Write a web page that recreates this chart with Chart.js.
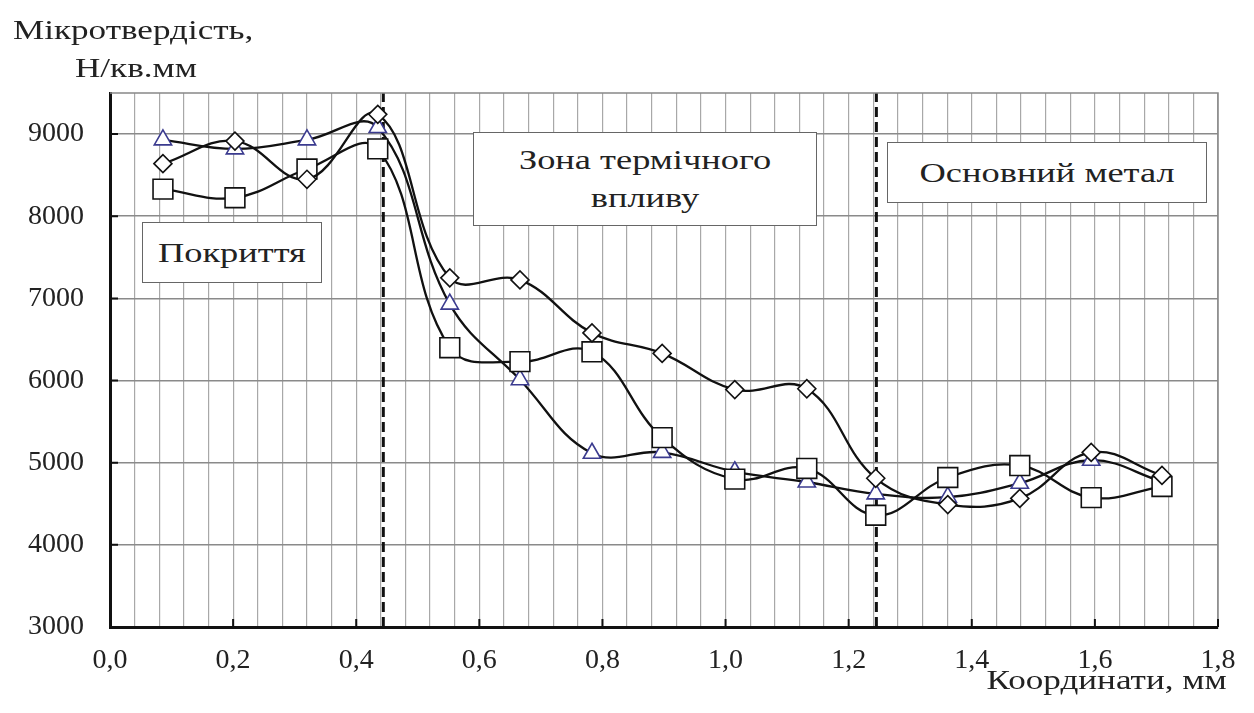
<!DOCTYPE html>
<html>
<head>
<meta charset="utf-8">
<script src="https://cdn.jsdelivr.net/npm/chart.js@4.4.1/dist/chart.umd.min.js"></script>
<style>
  body { margin: 0; background: #fff; }
  #wrap { position: relative; width: 1254px; height: 713px; }
  .lbl { position: absolute; font-family: "Liberation Serif", "Times New Roman", serif; font-size: 27px; line-height: 27px; color: #222; white-space: nowrap; transform: scaleX(1.3); transform-origin: left top; }
  .box { position: absolute; background: #fff; border: 1.5px solid #666; box-sizing: border-box; display: flex; align-items: center; justify-content: center; text-align: center; }
  .box span { font-family: "Liberation Serif", "Times New Roman", serif; font-size: 28px; line-height: 38px; color: #222; transform: scaleX(1.3); display: inline-block; }
</style>
</head>
<body>
<div id="wrap">
  <canvas id="chart"></canvas>
  <div class="lbl" style="left:13px;top:17px">Мікротвердість,</div>
  <div class="lbl" style="left:75px;top:55px">Н/кв.мм</div>
  <div class="lbl" style="right:27px;top:667px;transform-origin:right top">Координати, мм</div>
  <div class="box" style="left:142px;top:222px;width:180px;height:61px"><span>Покриття</span></div>
  <div class="box" style="left:473px;top:132px;width:344px;height:94px"><span>Зона термічного<br>впливу</span></div>
  <div class="box" style="left:887px;top:142px;width:320px;height:61px"><span>Основний метал</span></div>
</div>
<script>
// координати точок вимірювання, мм
const coords = [0.086, 0.203, 0.320, 0.435, 0.552, 0.666, 0.783, 0.897, 1.015, 1.132, 1.244, 1.361, 1.478, 1.594, 1.709];
// мікротвердість, Н/кв.мм
const seriesDiamond = [8640, 8915, 8450, 9240, 7250, 7225, 6580, 6330, 5890, 5900, 4810, 4490, 4565, 5125, 4845];
const seriesSquare = [8330, 8225, 8575, 8820, 6400, 6230, 6350, 5305, 4800, 4930, 4360, 4820, 4965, 4575, 4710];
const seriesTriangle = [8930, 8820, 8930, 9080, 6930, 6010, 5115, 5125, 4890, 4765, 4620, 4580, 4750, 5030, 4770];
// межі зон (покриття / ЗТВ / основний метал)
const zoneBounds = [0.444, 1.245];
const yTicks = [3000, 4000, 5000, 6000, 7000, 8000, 9000];
const xLabels = [0, 0.2, 0.4, 0.6, 0.8, 1.0, 1.2, 1.4, 1.6, 1.8];

const Y_MIN = 3000, Y_MAX = 9500;
const FONT = '"Liberation Serif", "Times New Roman", serif';

const toPts = vals => vals.map((v, i) => ({ x: coords[i], y: v }));

function lineSet(vals, style, radius, pointBorder) {
    return {
        data: toPts(vals),
        borderColor: '#111',
        borderWidth: 2.3,
        tension: 0.4,
        fill: false,
        pointStyle: style,
        pointRadius: radius,
        pointHoverRadius: radius,
        pointBackgroundColor: '#fff',
        pointBorderColor: pointBorder,
        pointBorderWidth: 1.6
    };
}

const zoneSets = zoneBounds.map(x => ({
    data: [{ x: x, y: Y_MIN }, { x: x, y: Y_MAX }],
    borderColor: '#111',
    borderWidth: 3,
    borderDash: [10, 5],
    pointRadius: 0,
    tension: 0,
    fill: false
}));

// рамка зверху/справа і короткі внутрішні засічки, як у Excel
const framePlugin = {
    id: 'frame',
    afterDraw(chart) {
        const { ctx, chartArea: a, scales: { x, y } } = chart;
        ctx.save();
        ctx.strokeStyle = '#888';
        ctx.lineWidth = 1.5;
        ctx.beginPath();
        ctx.moveTo(a.left, a.top); ctx.lineTo(a.right, a.top); ctx.lineTo(a.right, a.bottom);
        ctx.stroke();
        ctx.strokeStyle = '#111';
        ctx.lineWidth = 2;
        ctx.beginPath();
        xLabels.slice(1).forEach(v => {
            const px = x.getPixelForValue(v);
            ctx.moveTo(px, a.bottom); ctx.lineTo(px, a.bottom - 8);
        });
        yTicks.slice(1).forEach(v => {
            const py = y.getPixelForValue(v);
            ctx.moveTo(a.left, py); ctx.lineTo(a.left + 8, py);
        });
        ctx.stroke();
        ctx.restore();
    }
};

new Chart(document.getElementById('chart'), {
    type: 'line',
    data: {
        datasets: [
            lineSet(seriesDiamond, 'rectRot', 9, '#111'),
            lineSet(seriesSquare, 'rect', 14, '#111'),
            lineSet(seriesTriangle, 'triangle', 10, '#3b3b8f'),
            ...zoneSets
        ]
    },
    options: {
        responsive: true,
        maintainAspectRatio: false,
        animation: false,
        events: [],
        layout: { padding: { top: 93, right: 36, left: 0, bottom: 0 } },
        plugins: { legend: { display: false }, tooltip: { enabled: false } },
        scales: {
            x: {
                type: 'linear',
                min: 0, max: 1.8,
                afterFit(scale) { scale.height = 86; },
                ticks: {
                    stepSize: 0.04,
                    autoSkip: false,
                    maxRotation: 0,
                    padding: 17,
                    color: '#222',
                    font: { family: FONT, size: 28 },
                    callback(v) {
                        const k = v * 5;
                        return Math.abs(k - Math.round(k)) < 1e-6 ? v.toFixed(1).replace('.', ',') : '';
                    }
                },
                grid: { color: '#a8a8a8', lineWidth: 1.2, drawTicks: false },
                border: { color: '#111', width: 3 }
            },
            y: {
                min: Y_MIN, max: Y_MAX,
                afterFit(scale) { scale.width = 110; },
                afterBuildTicks(scale) { scale.ticks = yTicks.map(v => ({ value: v })); },
                ticks: {
                    padding: 26,
                    color: '#222',
                    font: { family: FONT, size: 28 },
                    callback: v => String(v)
                },
                grid: { color: '#8a8a8a', lineWidth: 1.5, drawTicks: false },
                border: { color: '#111', width: 3 }
            }
        }
    },
    plugins: [framePlugin]
});
</script>
</body>
</html>
